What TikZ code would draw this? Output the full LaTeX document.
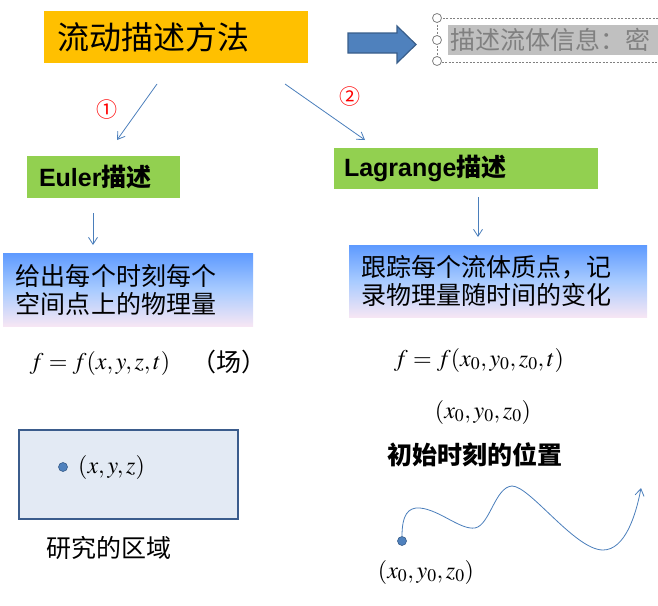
\documentclass[tikz,border=0pt]{standalone}
\usepackage{mathptmx}
\usepackage{fontspec}
\setmainfont{Liberation Sans}
\newfontfamily\cjk{Noto Sans CJK SC}
\usetikzlibrary{arrows.meta}

\definecolor{titleorange}{HTML}{FFC000}
\definecolor{labelgreen}{HTML}{92D050}
\definecolor{lineblue}{HTML}{4A7EBB}
\definecolor{arrowblue}{HTML}{4F81BD}
\definecolor{arrowedge}{HTML}{385D8A}
\definecolor{gradtop}{HTML}{5E9AFF}
\definecolor{gradmid}{HTML}{A8CBFF}
\definecolor{gradbot}{HTML}{F6E6F4}
\definecolor{regionfill}{HTML}{E3EAF4}
\definecolor{regionedge}{HTML}{3B5C8C}
\definecolor{hlgray}{HTML}{C0C0C0}
\definecolor{textgray}{HTML}{808080}

\begin{document}
\begin{tikzpicture}[x=1pt,y=-1pt,
    thinarrow/.style={draw=lineblue, line width=0.8pt, -{Straight Barb[length=7pt,width=9pt]}},
    greenbox/.style={fill=labelgreen, inner ysep=0pt, align=left, font=\fontsize{25}{27}\selectfont\bfseries},
    gradbox/.style={top color=gradtop, bottom color=gradbot, middle color=gradmid, inner ysep=0pt, align=left, font=\cjk\fontsize{25}{28}\selectfont},
    cjktext/.style={font=\cjk\fontsize{25}{27}\selectfont, inner sep=0pt},
    mathtext/.style={font=\fontsize{24}{26}\selectfont, inner sep=0pt},
    dotmark/.style={circle, fill=arrowblue, draw=arrowedge, line width=0.6pt, minimum size=9pt, inner sep=0pt},
    handle/.style={circle, draw=gray, fill=white, line width=0.8pt, minimum size=9pt, inner sep=0pt},
    circnum/.style={text=red, font=\cjk\fontsize{21}{21}\selectfont, inner sep=0pt}]
  \useasboundingbox (0,0) rectangle (658,605);

  % title and side box
  \node[fill=titleorange, minimum width=264pt, minimum height=52pt, text width=238pt, inner xsep=13pt,
    align=left, font=\cjk\fontsize{32}{34}\selectfont] (title) at (176,37) {流动描述方法};
  \draw[fill=arrowblue, draw=arrowedge, line width=1.2pt]
    (348,33) -- (397,33) -- (397,26) -- (416,44.5) -- (397,63) -- (397,53) -- (348,53) -- cycle;
  \fill[hlgray] (448,25) rectangle (658,55);
  \draw[gray, dash pattern=on 2pt off 1.5pt, line width=0.5pt] (658,18) -- (437,18) -- (437,62) -- (658,62);
  \node[anchor=west, text=textgray, font=\cjk\fontsize{25}{27}\selectfont, inner sep=0pt] (info) at (450,40) {描述流体信息：密};
  \node[handle] (h1) at (437,18) {};
  \node[handle] (h2) at (437,40) {};
  \node[handle] (h3) at (437,61) {};

  % two ways
  \coordinate (a1s) at (157,84);
  \coordinate (a1e) at (117,140);
  \coordinate (a2s) at (285,84);
  \coordinate (a2e) at (365,140);
  \draw[thinarrow] (a1s) -- (a1e);
  \draw[thinarrow] (a2s) -- (a2e);
  \node[circnum] (n1) at (107,110) {①};
  \node[circnum] (n2) at (350,97) {②};

  \node[greenbox, minimum width=153pt, minimum height=42pt, text width=129pt, inner xsep=12pt] (euler) at (103.5,177) {Euler{\cjk 描述}};
  \node[greenbox, minimum width=264pt, minimum height=41pt, text width=244pt, inner xsep=10pt] (lagrange) at (466,168.5) {Lagrange{\cjk 描述}};

  \coordinate (b1s) at (93,213);
  \coordinate (b1e) at (93,245);
  \coordinate (b2s) at (478,197);
  \coordinate (b2e) at (478,237);
  \draw[thinarrow] (b1s) -- (b1e);
  \draw[thinarrow] (b2s) -- (b2e);

  \node[gradbox, minimum width=250pt, minimum height=73pt, text width=224pt, inner xsep=13pt] (fieldbox) at (128,289.5) {给出每个时刻每个\\空间点上的物理量};
  \node[gradbox, minimum width=298pt, minimum height=72pt, text width=274pt, inner xsep=12pt] (trackbox) at (498,281) {跟踪每个流体质点，记\\录物理量随时间的变化};

  % formulas
  \node[mathtext] (ffield) at (100,363) {$f=f(x,y,z,t)$};
  \node[cjktext] (fieldnote) at (229,362) {（场）};
  \node[mathtext] (ftrack) at (479,360) {$f=f(x_0,y_0,z_0,t)$};
  \node[mathtext] (initpos) at (483,412) {$(x_0,y_0,z_0)$};
  \node[cjktext, font=\cjk\fontsize{25}{27}\selectfont\bfseries] (initlabel) at (475,455) {初始时刻的位置};

  % region of study
  \node[draw=regionedge, line width=2.5pt, fill=regionfill, minimum width=219pt, minimum height=89pt] (region) at (128.5,474.5) {};
  \node[dotmark] (pt) at (63,467) {};
  \node[mathtext, anchor=west] (ptlabel) at (78,467) {$(x,y,z)$};
  \node[cjktext] (regionlabel) at (109,548) {研究的区域};

  % path line
  \node[dotmark] (start) at (402,541) {};
  \node[mathtext] (startlabel) at (426,572) {$(x_0,y_0,z_0)$};
  \coordinate (pathend) at (641,488);
  \draw[thinarrow] (start.north) .. controls (402,515) and (408,507) .. (420,508)
    .. controls (440,510) and (460,530) .. (475,528)
    .. controls (490,525) and (495,487) .. (512,486)
    .. controls (530,486) and (575,550) .. (603,550)
    .. controls (625,550) and (636,515) .. (pathend);
\end{tikzpicture}
\end{document}
